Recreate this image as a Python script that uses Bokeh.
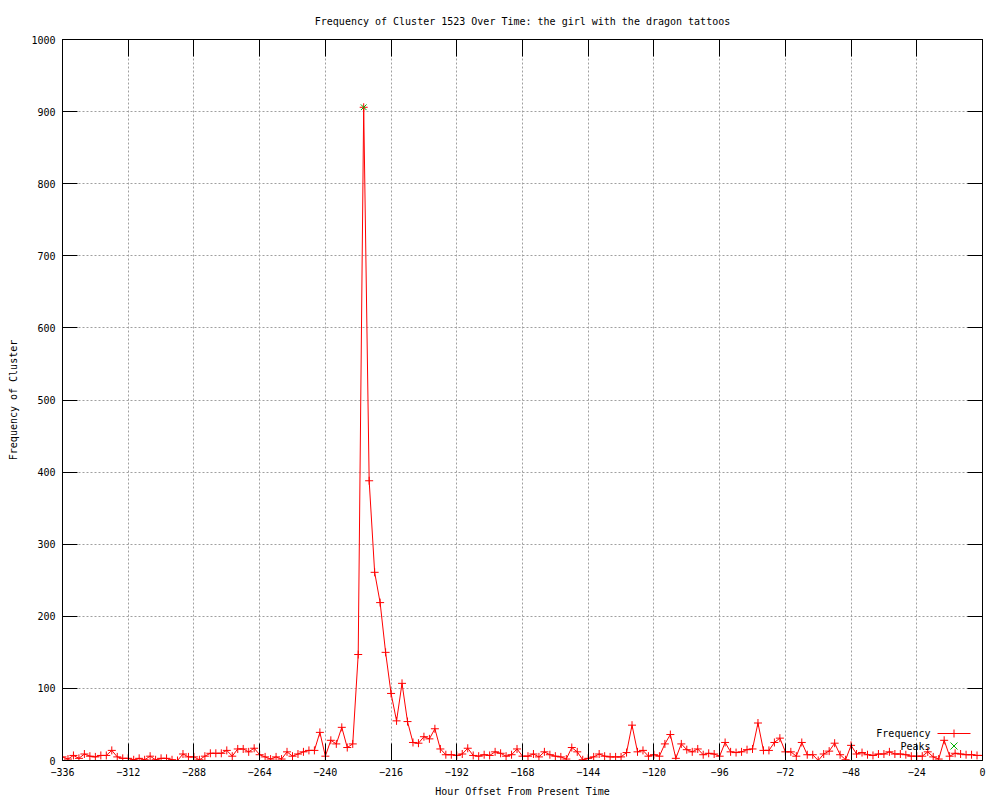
from bokeh.plotting import figure
from bokeh.models import LinearAxis, Range1d, FixedTicker, Label, Arrow
from bokeh.embed import file_html
from bokeh.resources import INLINE

# ---- data ----
hours = list(range(-336, 1, 2))
frequency = [
    5, 2, 7, 3, 9, 6, 5, 7, 7, 14, 5, 3, 3, 1, 3, 1, 6, 1, 3, 3,
    1, 0, 9, 5, 5, 1, 6, 10, 10, 10, 14, 6, 16, 16, 12, 17, 8, 5, 2, 5,
    2, 12, 6, 9, 12, 14, 14, 39, 6, 28, 23, 46, 18, 23, 147, 906, 388, 261, 219, 150,
    93, 55, 107, 54, 25, 24, 33, 30, 44, 16, 8, 8, 7, 9, 17, 7, 6, 8, 7, 12,
    10, 6, 8, 16, 6, 6, 9, 5, 12, 8, 6, 5, 2, 18, 12, 1, 3, 5, 9, 6,
    5, 5, 5, 11, 49, 12, 14, 6, 8, 6, 23, 36, 3, 23, 15, 12, 16, 8, 10, 9,
    6, 25, 12, 11, 12, 15, 16, 52, 14, 14, 25, 31, 12, 12, 6, 25, 8, 8, 0, 9,
    13, 24, 8, 1, 21, 9, 11, 8, 7, 9, 9, 12, 9, 9, 8, 6, 6, 6, 12, 5,
    2, 28, 6, 10, 9, 8, 8, 7, 7,
]
peak_hours = [-226]
peak_values = [906]

x_ticks = list(range(-336, 1, 24))
y_ticks = list(range(0, 1001, 100))

FONT = "DejaVu Sans Mono"
FS = "10px"
RED = "#ff0000"
GREEN = "#00b000"

p = figure(frame_width=920, frame_height=721, output_backend="svg", toolbar_location=None,
           x_range=Range1d(-336, 0), y_range=Range1d(0, 1000),
           min_border_left=62, min_border_right=10, min_border_top=39, min_border_bottom=40,
           title="Frequency of Cluster 1523 Over Time: the girl with the dragon tattoos")
p.title.text_font = FONT
p.title.text_font_size = FS
p.title.text_font_style = "normal"
p.title.text_color = "black"
p.title.align = "center"
p.title.standoff = 26
p.background_fill_color = "white"
p.border_fill_color = "white"
p.outline_line_color = "black"
p.outline_line_alpha = 1.0
p.outline_line_width = 1


def style_axis(ax, ticks, tick_len, show_labels):
    ax.ticker = FixedTicker(ticks=ticks)
    ax.major_tick_in = tick_len
    ax.major_tick_out = 0
    ax.minor_tick_line_color = None
    ax.axis_line_color = "black"
    ax.major_tick_line_color = "black"
    ax.major_label_text_font = FONT
    ax.major_label_text_font_style = "normal"
    if show_labels:
        ax.major_label_text_font_size = FS
        ax.major_label_text_color = "black"
    else:
        ax.major_label_text_font_size = "0px"
        ax.major_label_text_color = None
        ax.major_label_standoff = 0


xa = p.xaxis[0]
style_axis(xa, x_ticks, 17, True)
xa.major_label_standoff = 7
xa.axis_label = "Hour Offset From Present Time"
xa.axis_label_standoff = 7
xa.axis_label_text_font = FONT
xa.axis_label_text_font_size = FS
xa.axis_label_text_font_style = "normal"
xa.axis_label_text_color = "black"

ya = p.yaxis[0]
style_axis(ya, y_ticks, 15, True)
ya.major_label_standoff = 7
ya.axis_label = "Frequency of Cluster"
ya.axis_label_standoff = 9
ya.axis_label_text_font = FONT
ya.axis_label_text_font_size = FS
ya.axis_label_text_font_style = "normal"
ya.axis_label_text_color = "black"

top = LinearAxis()
style_axis(top, x_ticks, 17, False)
p.add_layout(top, "above")
right = LinearAxis()
style_axis(right, y_ticks, 15, False)
p.add_layout(right, "right")

for g, t in ((p.xgrid, x_ticks), (p.ygrid, y_ticks)):
    g.ticker = FixedTicker(ticks=t)
    g.grid_line_color = "#a0a0a0"
    g.grid_line_dash = "2 2"
    g.grid_line_width = 1

p.line(hours, frequency, line_color=RED, line_width=1)
p.scatter(hours, frequency, marker="cross", size=8, line_color=RED, line_width=1)
p.scatter(peak_hours, peak_values, marker="x", size=8, line_color=GREEN, line_width=1)

# ---- legend (gnuplot style: label then sample), frame-relative screen units ----
p.add_layout(Label(x=868, y=27, x_units="screen", y_units="screen", text="Frequency",
                   text_font=FONT, text_font_size=FS, text_align="right",
                   text_baseline="middle", text_color="black"))
p.add_layout(Label(x=868, y=14, x_units="screen", y_units="screen", text="Peaks",
                   text_font=FONT, text_font_size=FS, text_align="right",
                   text_baseline="middle", text_color="black"))
for (xs, ys, xe, ye, c) in [
    (875, 27, 908, 27, RED),
    (891.5, 23, 891.5, 31, RED),
    (888, 11, 895, 18, GREEN),
    (888, 18, 895, 11, GREEN),
]:
    p.add_layout(Arrow(x_start=xs, y_start=ys, x_end=xe, y_end=ye,
                       start_units="screen", end_units="screen",
                       start=None, end=None, line_color=c, line_width=1))

open("out.html", "w").write(file_html(p, INLINE))
